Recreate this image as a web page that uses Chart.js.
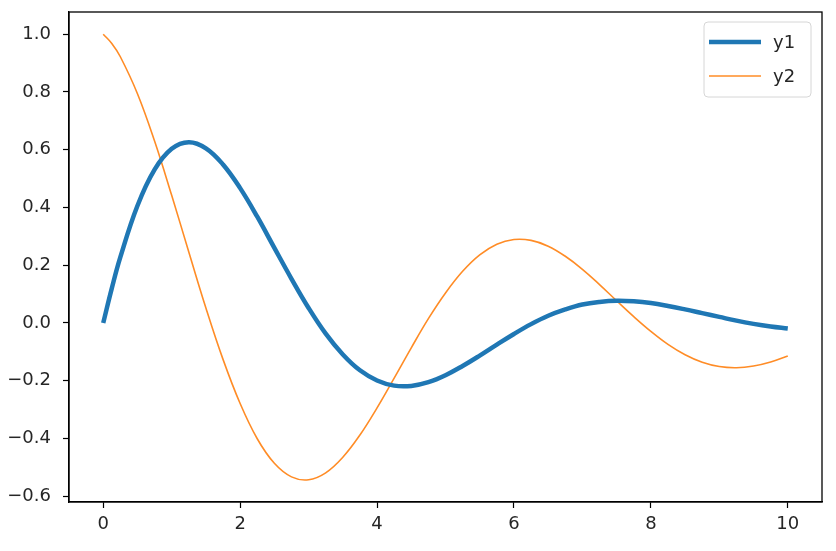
<!DOCTYPE html>
<html>
<head>
<meta charset="utf-8">
<script src="https://cdn.jsdelivr.net/npm/chart.js@4"></script>
<style>
  html, body { margin: 0; padding: 0; background: #fff; }
</style>
</head>
<body>
<canvas id="plot" width="836" height="551"></canvas>
<script>
// x positions (0 .. 10, mostly step 0.25)
const xs = [0, 0.125, 0.25, 0.5, 0.75, 1, 1.25, 1.5, 1.75, 2, 2.25, 2.5, 2.75, 3, 3.25, 3.5, 3.75,
  4, 4.25, 4.5, 4.75, 5, 5.25, 5.5, 5.75, 6, 6.25, 6.5, 6.75, 7, 7.25, 7.5, 7.75,
  8, 8.25, 8.5, 8.75, 9, 9.25, 9.5, 9.75, 10];
const y1 = [0, 0.120, 0.228, 0.406, 0.531, 0.603, 0.626, 0.605, 0.549, 0.467, 0.368, 0.260, 0.153,
  0.052, -0.037, -0.109, -0.164, -0.199, -0.217, -0.218, -0.205, -0.181, -0.149, -0.113,
  -0.075, -0.038, -0.004, 0.025, 0.047, 0.064, 0.073, 0.077, 0.075, 0.069, 0.059, 0.047,
  0.034, 0.021, 0.008, -0.003, -0.012, -0.019];
const y2 = [1, 0.968, 0.922, 0.794, 0.630, 0.442, 0.246, 0.052, -0.126, -0.279, -0.401, -0.486,
  -0.533, -0.543, -0.519, -0.465, -0.388, -0.294, -0.191, -0.086, 0.015, 0.104, 0.179,
  0.236, 0.273, 0.289, 0.286, 0.266, 0.231, 0.186, 0.133, 0.077, 0.022, -0.029, -0.074,
  -0.110, -0.136, -0.151, -0.155, -0.149, -0.135, -0.114];
const xTicks = [0, 2, 4, 6, 8, 10];
const yTicks = [-0.6, -0.4, -0.2, 0.0, 0.2, 0.4, 0.6, 0.8, 1.0];

const FONT = 'DejaVu Sans';
const toPts = ys => ys.map((v, i) => ({x: xs[i], y: v}));

// box round the axes + legend drawn inside the upper right corner
const framePlugin = {
  id: 'frame',
  afterDraw(chart) {
    const {ctx, chartArea: a} = chart;
    ctx.save();
    ctx.strokeStyle = '#000';
    ctx.lineWidth = 1.3;
    ctx.strokeRect(a.left, a.top, a.right - a.left, a.bottom - a.top);

    const w = 107, h = 75;
    const bx = a.right - 11 - w, by = a.top + 10;
    ctx.beginPath();
    ctx.roundRect(bx, by, w, h, 4);
    ctx.fillStyle = 'rgba(255,255,255,0.8)';
    ctx.fill();
    ctx.strokeStyle = '#d6d6d6';
    ctx.lineWidth = 1;
    ctx.stroke();

    ctx.font = '18px "' + FONT + '"';
    ctx.textBaseline = 'middle';
    chart.data.datasets.forEach((ds, i) => {
      const ly = by + 20 + i * 34;
      ctx.beginPath();
      ctx.moveTo(bx + 5, ly);
      ctx.lineTo(bx + 57, ly);
      ctx.strokeStyle = ds.borderColor;
      ctx.lineWidth = ds.borderWidth;
      ctx.stroke();
      ctx.fillStyle = '#262626';
      ctx.fillText(ds.label, bx + 69, ly + 1);
    });
    ctx.restore();
  }
};

new Chart(document.getElementById('plot'), {
  type: 'line',
  data: {
    datasets: [
      {label: 'y1', data: toPts(y1), borderColor: '#1f77b4', borderWidth: 4.5,
       pointRadius: 0, tension: 0.4, borderCapStyle: 'butt'},
      {label: 'y2', data: toPts(y2), borderColor: '#ff8c26', borderWidth: 1.6,
       pointRadius: 0, tension: 0.4}
    ]
  },
  options: {
    responsive: false,
    animation: false,
    devicePixelRatio: 1,
    layout: {padding: {left: 0, top: 12, right: 14, bottom: 0}},
    plugins: {legend: {display: false}, tooltip: {enabled: false}},
    scales: {
      x: {
        type: 'linear', min: -0.5, max: 10.5,
        afterBuildTicks: s => { s.ticks = xTicks.map(v => ({value: v})); },
        afterFit: s => { s.height = 49; s.paddingLeft = 0; s.paddingRight = 0; },
        grid: {drawOnChartArea: false, tickLength: 6, color: '#000', tickWidth: 1.2},
        border: {color: '#000', width: 1.3},
        ticks: {color: '#262626', font: {family: FONT, size: 18}, padding: 6,
                maxRotation: 0, callback: v => String(v)}
      },
      y: {
        type: 'linear', min: -0.62, max: 1.077,
        afterBuildTicks: s => { s.ticks = yTicks.map(v => ({value: v})); },
        afterFit: s => { s.width = 69; s.paddingTop = 0; s.paddingBottom = 0; },
        grid: {drawOnChartArea: false, tickLength: 6, color: '#000', tickWidth: 1.2},
        border: {color: '#000', width: 1.3},
        ticks: {color: '#262626', font: {family: FONT, size: 18}, padding: 12,
                callback: v => (v < 0 ? '\u2212' : '') + Math.abs(v).toFixed(1)}
      }
    }
  },
  plugins: [framePlugin]
});
</script>
</body>
</html>
